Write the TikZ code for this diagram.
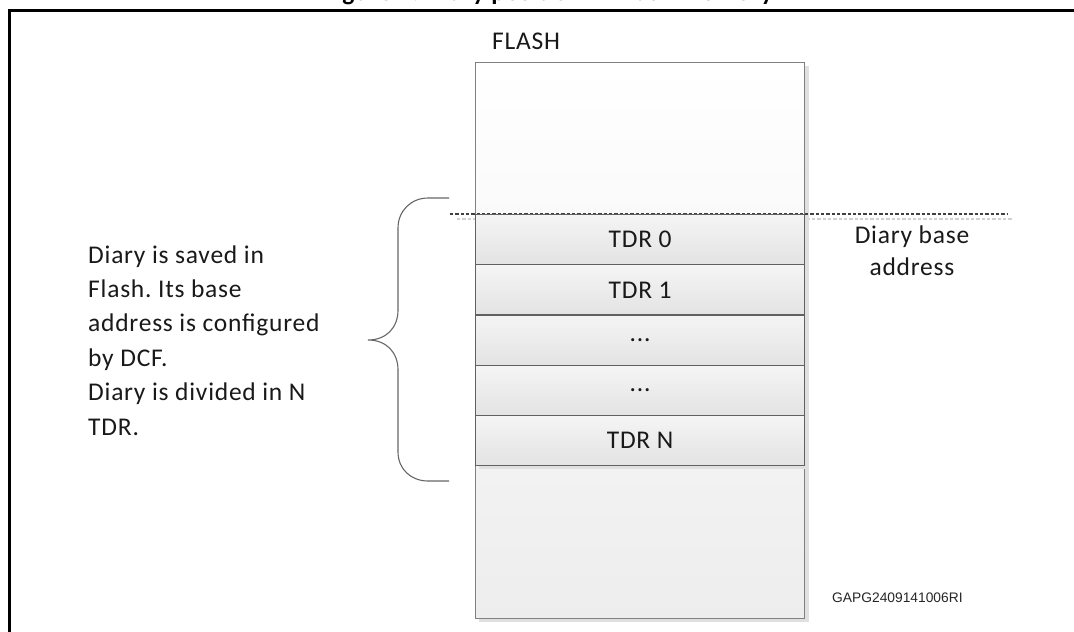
\documentclass[tikz,border=0pt]{standalone}
\usepackage{fontspec}
\setmainfont{Carlito}[LetterSpace=3]
\newfontfamily\codefont{Liberation Sans}
\newcommand\rowdots{...}
\frenchspacing
\begin{document}
\begin{tikzpicture}[x=1pt,y=-1pt,
  txt/.style={font=\fontsize{25.5}{30}\selectfont, text=black!90, inner sep=0pt},
  flashbox/.style={draw=black!50, line width=1.2pt, inner sep=0pt, anchor=north west,
    minimum width=329pt, minimum height=556pt, top color=white, bottom color=black!7},
  tdrrow/.style={draw=black!62, line width=1.2pt, inner sep=0pt, anchor=north west,
    minimum width=329pt, minimum height=50.2pt, top color=black!4, bottom color=black!11,
    font=\fontsize{25.5}{30}\selectfont, text=black!90},
  baseline dash/.style={draw=black!75, line width=1.3pt, dash pattern=on 3.3pt off 2pt},
  baseline dash shadow/.style={draw=black!18, line width=1.3pt, dash pattern=on 3.3pt off 2pt},
  brace line/.style={draw=black!60, line width=1.1pt},
  dropshadow/.style={fill=black!12}]
\useasboundingbox (0,0) rectangle (1074,632);
\clip (0,0) rectangle (1074,632);

% caption and outer frame
\node[font=\bfseries\fontsize{25.5}{30}\selectfont, anchor=base, inner sep=0pt] (title) at (548,0)
  {Figure 4. Diary position in Flash memory};
\draw[line width=3pt] (9,650) -- (9,10) -- (1090,10);

% memory block
\node[txt, anchor=base west] (flashlabel) at (492,49) {FLASH};
\fill[dropshadow] (479,66) rectangle (809,622);
\node[flashbox] (flash) at (475,62) {};

% dashed marker of the base address (shadow first)
\coordinate (dl) at (450,214);
\coordinate (dr) at (1008,214);
\coordinate (dls) at (457,219);
\coordinate (drs) at (1012,219);
\draw[baseline dash shadow] (dls) -- (drs);
\draw[baseline dash] (dl) -- (dr);

% diary records
\fill[dropshadow] (479,218) rectangle (809,469);
\foreach \i/\t in {0/TDR 0,1/TDR 1,2/\rowdots,3/\rowdots,4/TDR N}
  \node[tdrrow] (r\i) at (475,{214+50.2*\i}) {\t};

% curly brace spanning the diary
\draw[brace line] (449,198) -- (428,198)
  .. controls (411,198) and (398,211) .. (398,228) -- (398,310)
  .. controls (398,328) and (386,340) .. (368,340)
  .. controls (386,340) and (398,352) .. (398,370) -- (398,452)
  .. controls (398,469) and (411,481) .. (428,481) -- (449,481);

% annotations (base anchor = baseline of the last line)
\node[txt, anchor=base west, align=left, font=\fontsize{25.5}{34.4}\selectfont] (note) at (88,435)
  {Diary is saved in\\Flash. Its base\\address is configured\\by DCF.\\Diary is divided in N\\TDR.};
\node[txt, anchor=base, align=center, font=\fontsize{25.5}{32}\selectfont] (baseaddr) at (912,275)
  {Diary base\\address};
\node[anchor=base west, inner sep=0pt, font=\codefont\fontsize{13.8}{15}\selectfont, text=black!85] (code) at (832,602)
  {GAPG2409141006RI};
\end{tikzpicture}
\end{document}
